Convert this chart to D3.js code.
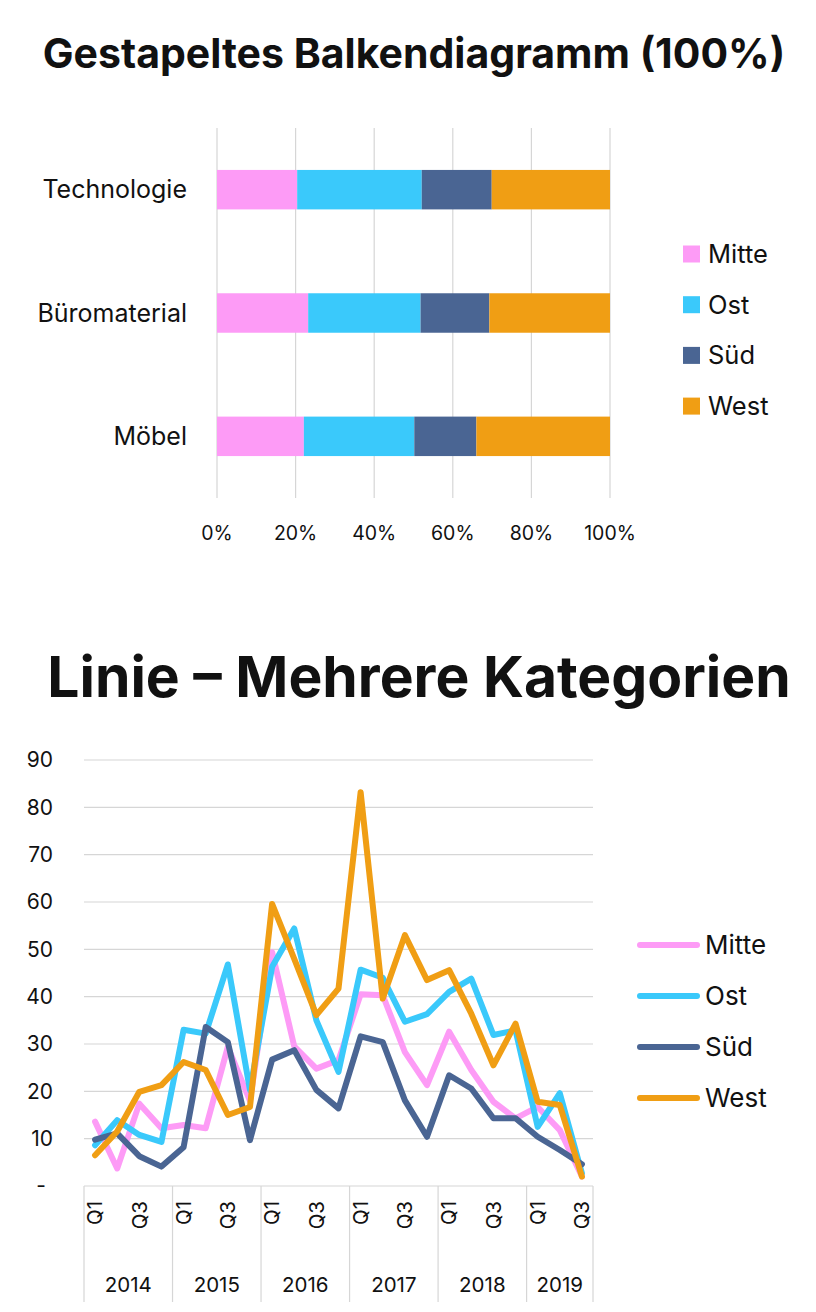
<!DOCTYPE html>
<html>
<head>
<meta charset="utf-8">
<script src="https://cdn.jsdelivr.net/npm/d3@7"></script>
<style>
  html, body { margin: 0; padding: 0; background: #fff; }
  text { font-family: Inter, 'Open Sans', sans-serif; fill: #111; }
</style>
</head>
<body>
<script>
// Colours for the four regions
const colors = {
  Mitte: '#fd9bf6',
  Ost: '#3ac9fb',
  Süd: '#4a6593',
  West: '#f09e14',
  grid: '#d6d6d6',
}

// Stacked bar data (share of category sales per region, %)
const barCategories = ['Technologie', 'Büromaterial', 'Möbel']
const regions = ['Mitte', 'Ost', 'Süd', 'West']
const mitteShare = [20.4, 23.2, 22.1]
const ostShare = [31.7, 28.6, 28.1]
const suedShare = [17.8, 17.5, 15.8]
const westShare = [30.1, 30.7, 34.0]
const percentTicks = [0, 20, 40, 60, 80, 100]

// Line chart data (quarters 2014 Q1 .. 2019 Q3)
const years = ['2014', '2015', '2016', '2017', '2018', '2019']
const quartersPerYear = [4, 4, 4, 4, 4, 3]
const quarterNames = ['Q1', 'Q2', 'Q3', 'Q4']
const mitte = [13.6, 3.7, 17.4, 12.2, 12.9, 12.2, 29.4, 18.0, 49.4, 29.5, 24.8, 26.6, 40.5, 40.3, 28.3, 21.3, 32.6, 24.5, 17.8, 14.3, 16.7, 11.8, 2.0]
const ost = [8.6, 13.9, 10.8, 9.3, 33.0, 32.2, 46.8, 20.3, 46.3, 54.4, 35.0, 24.1, 45.7, 44.0, 34.7, 36.3, 41.0, 43.8, 31.9, 32.9, 12.5, 19.6, 2.7]
const sued = [9.8, 11.1, 6.3, 4.1, 8.2, 33.6, 30.4, 9.7, 26.7, 28.7, 20.3, 16.4, 31.6, 30.4, 18.1, 10.4, 23.4, 20.6, 14.3, 14.3, 10.4, 7.6, 4.6]
const west = [6.5, 11.5, 19.9, 21.3, 26.2, 24.5, 15.0, 16.7, 59.6, 48.0, 36.1, 41.7, 83.2, 39.6, 53.0, 43.5, 45.6, 36.4, 25.5, 34.3, 17.8, 17.1, 2.0]
const valueTicks = [0, 10, 20, 30, 40, 50, 60, 70, 80, 90]

const W = 816
const H = 1312

const svg = d3.select('body').append('svg')
  .attr('width', W)
  .attr('height', H)
  .attr('viewBox', `0 0 ${W} ${H}`)

svg.append('rect').attr('width', W).attr('height', H).attr('fill', '#fff')

// ---------- Chart 1: 100% stacked bars ----------
svg.append('text')
  .attr('x', 414).attr('y', 68)
  .attr('text-anchor', 'middle')
  .style('font-size', '41px')
  .style('font-weight', 700)
  .text('Gestapeltes Balkendiagramm (100%)')

const bx = d3.scaleLinear().domain([0, 100]).range([217, 610])
const by = d3.scaleBand()
  .domain(barCategories)
  .range([128, 498])
  .paddingInner(0.68)
  .paddingOuter(0.34)

const barRows = barCategories.map((c, i) => ({
  category: c,
  Mitte: mitteShare[i],
  Ost: ostShare[i],
  Süd: suedShare[i],
  West: westShare[i],
}))
const stacked = d3.stack().keys(regions).offset(d3.stackOffsetExpand)(barRows)

const g1 = svg.append('g')

g1.selectAll('line.vgrid')
  .data(percentTicks)
  .join('line')
  .attr('class', 'vgrid')
  .attr('x1', d => bx(d)).attr('x2', d => bx(d))
  .attr('y1', 128).attr('y2', 498)
  .attr('stroke', colors.grid)
  .attr('stroke-width', 1.2)

g1.selectAll('g.layer')
  .data(stacked)
  .join('g')
  .attr('class', 'layer')
  .attr('fill', d => colors[d.key])
  .selectAll('rect')
  .data(d => d)
  .join('rect')
  .attr('x', d => bx(d[0] * 100))
  .attr('width', d => bx(d[1] * 100) - bx(d[0] * 100))
  .attr('y', d => by(d.data.category))
  .attr('height', by.bandwidth())

g1.selectAll('text.cat')
  .data(barCategories)
  .join('text')
  .attr('class', 'cat')
  .attr('x', 187)
  .attr('y', d => by(d) + by.bandwidth() / 2)
  .attr('dy', '0.35em')
  .attr('text-anchor', 'end')
  .style('font-size', '25px')
  .text(d => d)

g1.selectAll('text.pct')
  .data(percentTicks)
  .join('text')
  .attr('class', 'pct')
  .attr('x', d => bx(d))
  .attr('y', 533)
  .attr('dy', '0.35em')
  .attr('text-anchor', 'middle')
  .style('font-size', '19.5px')
  .text(d => d + '%')

const legend1 = g1.append('g').attr('transform', 'translate(683, 254)')
regions.forEach((r, i) => {
  const item = legend1.append('g').attr('transform', `translate(0, ${i * 50.7})`)
  item.append('rect')
    .attr('x', 0).attr('y', -8.5)
    .attr('width', 17).attr('height', 17)
    .attr('fill', colors[r])
  item.append('text')
    .attr('x', 25).attr('y', 0).attr('dy', '0.35em')
    .style('font-size', '25.5px')
    .text(r)
})

// ---------- Chart 2: lines ----------
svg.append('text')
  .attr('x', 419).attr('y', 697)
  .attr('text-anchor', 'middle')
  .style('font-size', '57px')
  .style('font-weight', 700)
  .text('Linie – Mehrere Kategorien')

// build quarter categories from years
const periods = []
years.forEach((y, yi) => {
  for (let q = 0; q < quartersPerYear[yi]; q++) periods.push({ year: y, q: quarterNames[q], key: y + quarterNames[q] })
})

const lx = d3.scaleBand().domain(periods.map(p => p.key)).range([84, 593])
const ly = d3.scaleLinear().domain([0, 90]).range([1186, 760])
const cx = k => lx(k) + lx.bandwidth() / 2

const g2 = svg.append('g')

g2.selectAll('line.hgrid')
  .data(valueTicks)
  .join('line')
  .attr('class', 'hgrid')
  .attr('x1', 84).attr('x2', 593)
  .attr('y1', d => ly(d)).attr('y2', d => ly(d))
  .attr('stroke', colors.grid)
  .attr('stroke-width', 1.2)

g2.selectAll('text.ytick')
  .data(valueTicks)
  .join('text')
  .attr('class', 'ytick')
  .attr('x', d => d === 0 ? 46 : 53)
  .attr('y', d => ly(d))
  .attr('dy', '0.35em')
  .attr('text-anchor', 'end')
  .style('font-size', '21px')
  .text(d => d === 0 ? '-' : d)

// year group separators
let start = 0
const yearBounds = years.map((y, yi) => {
  const first = periods[start].key
  const last = periods[start + quartersPerYear[yi] - 1].key
  start += quartersPerYear[yi]
  return { year: y, x0: lx(first), x1: lx(last) + lx.bandwidth() }
})
const sepX = [yearBounds[0].x0].concat(yearBounds.map(b => b.x1))

g2.selectAll('line.sep')
  .data(sepX)
  .join('line')
  .attr('class', 'sep')
  .attr('x1', d => d).attr('x2', d => d)
  .attr('y1', 1186).attr('y2', 1302)
  .attr('stroke', colors.grid)
  .attr('stroke-width', 1.2)

g2.selectAll('text.q')
  .data(periods.filter(p => p.q === 'Q1' || p.q === 'Q3'))
  .join('text')
  .attr('class', 'q')
  .attr('transform', d => `translate(${cx(d.key)}, 1201) rotate(-90)`)
  .attr('dy', '0.35em')
  .attr('text-anchor', 'end')
  .style('font-size', '20.5px')
  .text(d => d.q)

g2.selectAll('text.year')
  .data(yearBounds)
  .join('text')
  .attr('class', 'year')
  .attr('x', d => (d.x0 + d.x1) / 2)
  .attr('y', 1285)
  .attr('dy', '0.35em')
  .attr('text-anchor', 'middle')
  .style('font-size', '20.5px')
  .text(d => d.year)

const series = [
  { name: 'Mitte', values: mitte },
  { name: 'Ost', values: ost },
  { name: 'Süd', values: sued },
  { name: 'West', values: west },
]

const line = d3.line()
  .x((d, i) => cx(periods[i].key))
  .y(d => ly(d))

g2.selectAll('path.series')
  .data(series)
  .join('path')
  .attr('class', 'series')
  .attr('d', d => line(d.values))
  .attr('fill', 'none')
  .attr('stroke', d => colors[d.name])
  .attr('stroke-width', 6)
  .attr('stroke-linejoin', 'round')
  .attr('stroke-linecap', 'round')

const legend2 = g2.append('g').attr('transform', 'translate(637, 945)')
series.forEach((s, i) => {
  const item = legend2.append('g').attr('transform', `translate(0, ${i * 51})`)
  item.append('line')
    .attr('x1', 3).attr('x2', 60)
    .attr('stroke', colors[s.name])
    .attr('stroke-width', 6)
    .attr('stroke-linecap', 'round')
  item.append('text')
    .attr('x', 68).attr('y', 0).attr('dy', '0.35em')
    .style('font-size', '26px')
    .text(s.name)
})
</script>
</body>
</html>
